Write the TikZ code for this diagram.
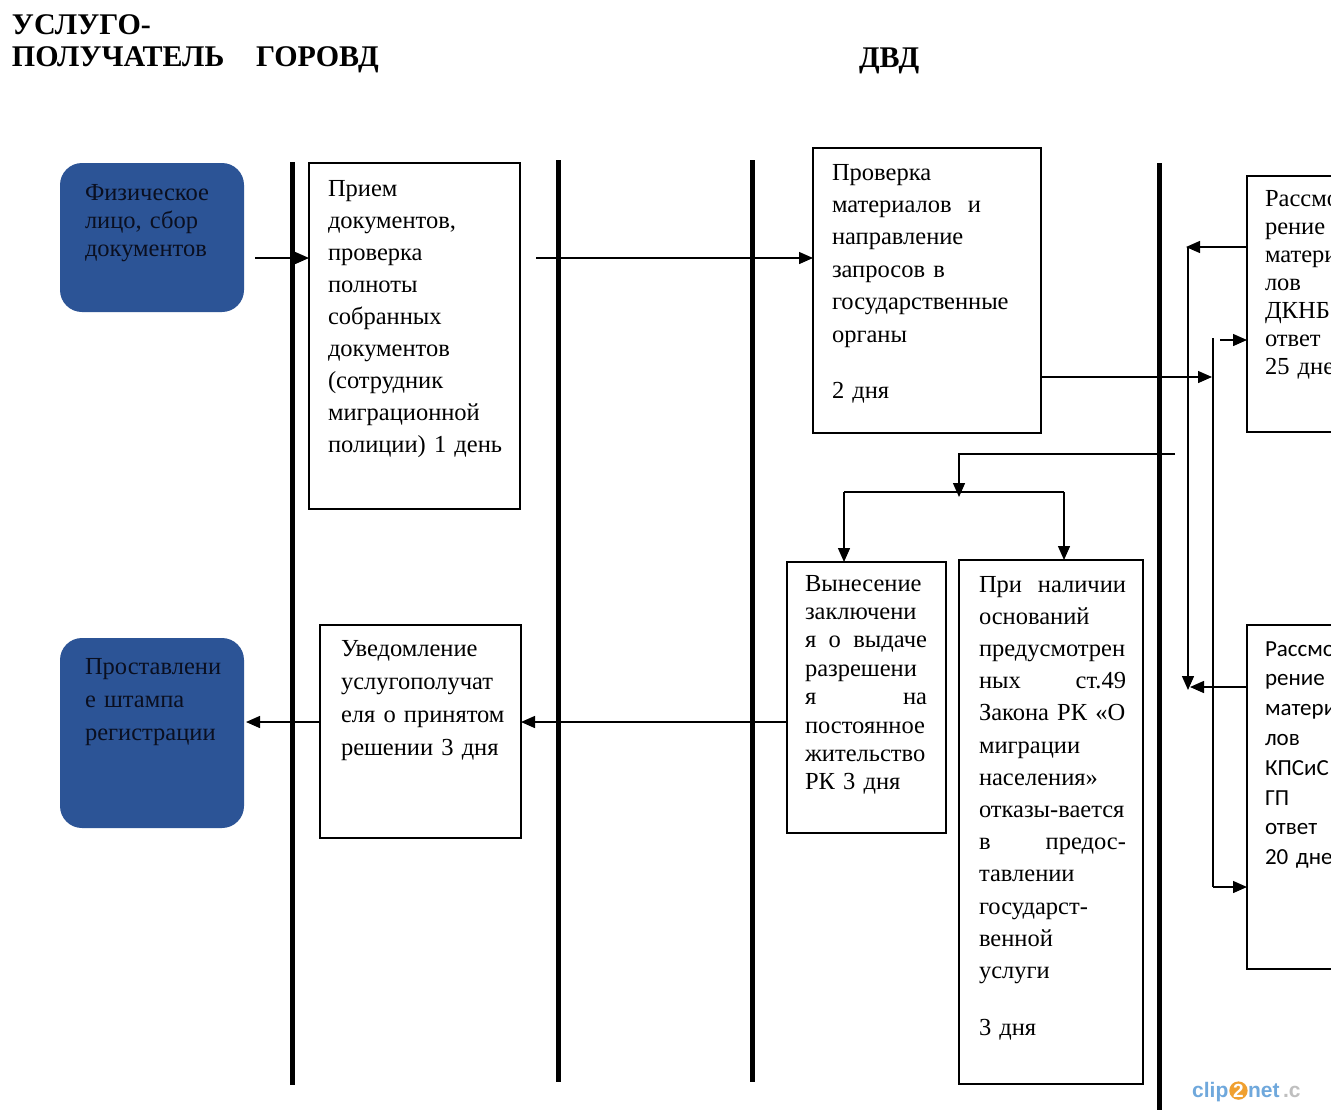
\documentclass[tikz,border=0pt]{standalone}
\usepackage{fontspec}
\setmainfont{Liberation Serif}
\newfontfamily\sansf{Carlito}
\newfontfamily\logof{Liberation Sans}
\usetikzlibrary{arrows.meta}
\definecolor{boxblue}{HTML}{2C5496}
\definecolor{bluetext}{HTML}{0A0F20}
\definecolor{logoblue}{HTML}{6FA8DC}
\definecolor{logoorange}{HTML}{F0A030}
\begin{document}
\begin{tikzpicture}[x=1pt,y=-1pt,
  box/.style={draw=black, line width=1.5pt, inner sep=0pt, outer sep=0pt},
  bluebox/.style={fill=boxblue, draw=none, rounded corners=22pt, inner sep=0pt, outer sep=0pt},
  txt/.style={inner sep=0pt, outer sep=0pt, anchor=base west, align=left},
  lane/.style={line width=5pt},
  conn/.style={line width=1.4pt},
  arr/.style={conn, -{Triangle[length=14pt,width=12pt]}},
  hdr/.style={inner sep=0pt, outer sep=0pt, anchor=base west, font=\bfseries\fontsize{30}{32}\selectfont},
]
\useasboundingbox (0,0) rectangle (1331,1112);
\clip (0,0) rectangle (1331,1112);
\fill[white] (0,0) rectangle (1331,1112);

% headers
\node[hdr] (h1) at (12,34) {УСЛУГО-};
\node[hdr] (h2) at (12,66) {ПОЛУЧАТЕЛЬ};
\node[hdr] (h3) at (256,66) {ГОРОВД};
\node[hdr] (h4) at (859,67) {ДВД};

% lanes
\coordinate (l1t) at (292,162); \coordinate (l1b) at (292,1085);
\coordinate (l2t) at (558,160); \coordinate (l2b) at (558,1082);
\coordinate (l3t) at (752,160); \coordinate (l3b) at (752,1082);
\coordinate (l4t) at (1159,163); \coordinate (l4b) at (1159,1110);
\draw[lane] (l1t) -- (l1b);
\draw[lane] (l2t) -- (l2b);
\draw[lane] (l3t) -- (l3b);
\draw[lane] (l4t) -- (l4b);

% boxes
\node[bluebox, minimum width=184pt, minimum height=149pt] (B1) at (152,237.5) {};
\node[box, minimum width=211pt, minimum height=346pt] (B2) at (414.5,336) {};
\node[box, minimum width=228pt, minimum height=285pt] (B3) at (927,290.5) {};
\node[box, minimum width=173pt, minimum height=256pt] (B4) at (1333.5,304) {};
\node[box, minimum width=173pt, minimum height=344pt] (B5) at (1333.5,797) {};
\node[box, minimum width=159pt, minimum height=271pt] (B6) at (866.5,697.5) {};
\node[box, minimum width=184pt, minimum height=524pt] (B7) at (1051,822) {};
\node[box, minimum width=201pt, minimum height=213pt] (B8) at (420.5,731.5) {};
\node[bluebox, minimum width=184pt, minimum height=190pt] (B9) at (152,733) {};

% texts
\node[txt, text width=150pt, text=bluetext, font=\fontsize{24.5}{28}\selectfont] (T1) at (85,200)
 {Физическое\\лицо, сбор\\документов};
\node[txt, text width=185pt, font=\fontsize{24.5}{32}\selectfont] (T2) at (328,196)
 {Прием\\документов,\\проверка\\полноты\\собранных\\документов\\(сотрудник\\миграционной\\полиции) 1 день};
\node[txt, text width=200pt, font=\fontsize{24.5}{32.4}\selectfont] (T3) at (832,180)
 {Проверка\\материалов\ \ и\\направление\\запросов в\\государственные\\органы\\[23.6pt]2 дня};
\node[txt, text width=150pt, font=\fontsize{24.5}{28}\selectfont] (T4) at (1265,206)
 {Рассмот-\\рение\\материа-\\лов\\ДКНБ\\ответ\\25 дней};
\node[txt, text width=150pt, font=\sansf\fontsize{23}{29.8}\selectfont] (T5) at (1265,656)
 {Рассмот-\\рение\\материа-\\лов\\КПСиС\\ГП\\ответ\\20 дней};
\node[txt, text width=122pt, font=\fontsize{24.5}{28.4}\selectfont] (T6) at (805,591)
 {Вынесение\\заключени\\я\hfill о\hfill выдаче\\разрешени\\я\hfill на\\постоянное\\жительство\\РК 3 дня};
\node[txt, text width=147pt, font=\fontsize{24.5}{32.2}\selectfont] (T7) at (979,592)
 {При\hfill наличии\\оснований\\предусмотрен\\ных\hfill ст.49\\Закона РК «О\\миграции\\населения»\\отказы-вается\\в\hfill предос-\\тавлении\\государст-\\венной\\услуги\\[24.8pt]3 дня};
\node[txt, text width=175pt, font=\fontsize{24.5}{33}\selectfont] (T8) at (341,656)
 {Уведомление\\услугополучат\\еля о принятом\\решении 3 дня};
\node[txt, text width=155pt, text=bluetext, font=\fontsize{24.5}{33}\selectfont] (T9) at (85,674)
 {Проставлени\\е штампа\\регистрации};

% connectors
\coordinate (a1s) at (255,258);
\draw[arr] (a1s) -- (a1s -| B2.west);
\coordinate (a2s) at (536,258);
\draw[arr] (a2s) -- (a2s -| B3.west);
\coordinate (a3e) at (1212,377);
\draw[arr] (B3.east |- a3e) -- (a3e);
\coordinate (v2t) at (1213,338);
\coordinate (v2b) at (1213,887);
\draw[conn] (v2t) -- (v2b);
\draw[arr] (v2b) -- (v2b -| B5.west);
\coordinate (a4s) at (1220,340);
\draw[arr] (a4s) -- (a4s -| B4.west);
\coordinate (v1t) at (1188,247);
\coordinate (v1b) at (1188,690);
\draw[arr] (v1t -| B4.west) -- ([xshift=-2pt]v1t);
\draw[arr] (v1t) -- (v1b);
\coordinate (a5e) at (1190,687);
\draw[arr] (a5e -| B5.west) -- (a5e);
\coordinate (s) at (1175,454);
\coordinate (j) at (959,497);
\draw[arr] (s) -- (s -| j) -- (j);
\coordinate (bl) at (844,492);
\coordinate (br) at (1064,492);
\draw[conn] (bl) -- (br);
\draw[arr] (bl) -- (bl |- B6.north);
\draw[arr] (br) -- (br |- B7.north);
\coordinate (r1) at (0,722);
\draw[arr] (B6.west |- r1) -- (B8.east |- r1);
\draw[arr] (B8.west |- r1) -- ([xshift=2pt]B9.east |- r1);

% watermark
\node[inner sep=0pt, anchor=base west, font=\logof\bfseries\fontsize{21}{21}\selectfont, text=logoblue] (lg1) at (1192,1097) {clip};
\node[circle, fill=logoorange, text=white, inner sep=0.5pt, anchor=west, font=\logof\bfseries\fontsize{19}{19}\selectfont] (lg2) at ([xshift=0.5pt,yshift=1pt]lg1.east) {2};
\node[inner sep=0pt, anchor=base west, font=\logof\bfseries\fontsize{21}{21}\selectfont, text=logoblue] (lg3) at (lg2.east |- lg1.base) {net\textcolor{black!25}{\,.c}};
\end{tikzpicture}
\end{document}
